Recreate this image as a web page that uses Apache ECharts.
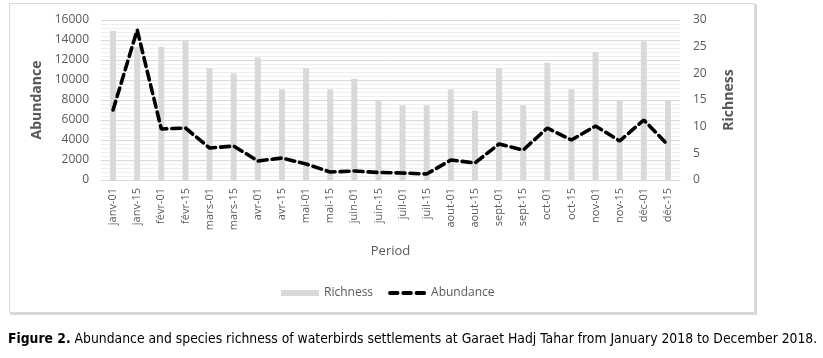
<!DOCTYPE html>
<html><head><meta charset="utf-8">
<script src="https://cdn.jsdelivr.net/npm/echarts@6/dist/echarts.min.js"></script>
<style>html,body{margin:0;padding:0;background:#fff}#c{width:823px;height:358px}</style>
</head><body><div id="c"></div>
<script>
const categories = ['janv-01','janv-15','févr-01','févr-15','mars-01','mars-15','avr-01','avr-15','mai-01','mai-15','juin-01','juin-15','juil-01','juil-15','aout-01','aout-15','sept-01','sept-15','oct-01','oct-15','nov-01','nov-15','déc-01','déc-15'];
const richness = [28,25,25,26,21,20,23,17,21,17,19,15,14,14,17,13,21,14,22,17,24,15,26,15];
const abundance = [7000,15000,5100,5200,3200,3400,1900,2200,1600,800,900,750,700,600,2000,1700,3600,3000,5200,4000,5400,3900,6000,3500];

const chart = echarts.init(document.getElementById('c'), null, {renderer:'canvas'});
const gray = '#595959';
const font = 'Open Sans';
chart.setOption({
  animation:false,
  textStyle:{fontFamily:font},
  graphic:[
    {type:'rect', shape:{x:9.5,y:3.5,width:745,height:309}, style:{fill:'none',stroke:'#d9d9d9',lineWidth:1}, z:-10},
    {type:'rect', shape:{x:754,y:4,width:3,height:311}, style:{fill:'#d9d9d9'}, z:-10},
    {type:'rect', shape:{x:10,y:312,width:747,height:3}, style:{fill:'#d9d9d9'}, z:-10},
    {type:'text', left:8, top:332, style:{
      text:'{b|Figure 2.} Abundance and species richness of waterbirds settlements at Garaet Hadj Tahar from January 2018 to December 2018.',
      rich:{b:{fontWeight:'bold',fontFamily:'DejaVu Sans Condensed',fontSize:13.8,fill:'#000'}},
      fontFamily:'DejaVu Sans Condensed', fontSize:13.8, fill:'#000'}}
  ],
  grid:{left:101,right:143,top:20,bottom:178},
  legend:{left:276,top:282,itemWidth:38,itemHeight:6,itemGap:15,
    textStyle:{color:gray,fontSize:12,fontFamily:font},
    data:[{name:'Richness',icon:'rect'},
          {name:'Abundance',icon:'path://M1,0h8a2,2 0 0 1 0,4h-8a2,2 0 0 1 0,-4z M15,0h8a2,2 0 0 1 0,4h-8a2,2 0 0 1 0,-4z M29,0h8a2,2 0 0 1 0,4h-8a2,2 0 0 1 0,-4z',
           itemStyle:{color:'#000'}}]},
  xAxis:{type:'category',data:categories,
    axisLine:{lineStyle:{color:'#d9d9d9'}},axisTick:{show:false},
    axisLabel:{rotate:90,color:gray,fontSize:11,margin:8,interval:0},
    name:'Period',nameLocation:'middle',nameGap:65,nameTextStyle:{color:gray,fontSize:13}},
  yAxis:[
    {type:'value',min:0,max:16000,interval:2000,
     axisLabel:{color:gray,fontSize:12,margin:12,formatter:v=>String(v)},
     axisLine:{show:false},axisTick:{show:false},
     splitLine:{lineStyle:{color:'#d9d9d9'}},
     minorTick:{show:false,splitNumber:5},
     minorSplitLine:{show:true,lineStyle:{color:'#eeeeee'}},
     name:'Abundance',nameLocation:'middle',nameGap:52,nameRotate:90,
     nameTextStyle:{color:gray,fontSize:14,fontWeight:'bold'}},
    {type:'value',min:0,max:30,interval:5,position:'right',
     axisLabel:{color:gray,fontSize:12,margin:13},
     axisLine:{show:false},axisTick:{show:false},splitLine:{show:false},
     name:'Richness',nameLocation:'middle',nameGap:42,nameRotate:90,
     nameTextStyle:{color:gray,fontSize:14,fontWeight:'bold'}}
  ],
  series:[
    {name:'Richness',type:'bar',yAxisIndex:1,data:richness,barWidth:6,
     itemStyle:{color:'#d9d9d9'},z:1},
    {name:'Abundance',type:'line',yAxisIndex:0,data:abundance,symbol:'none',
     lineStyle:{color:'#000',width:3.6,type:[9,5],cap:'round'},itemStyle:{color:'#000'},z:3}
  ]
});
</script></body></html>
